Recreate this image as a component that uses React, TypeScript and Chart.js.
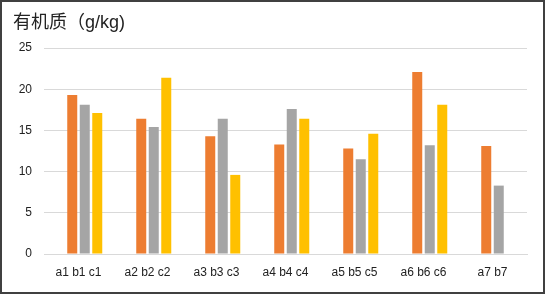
import React, { useEffect, useRef } from "react";
import { Chart, registerables } from "chart.js";

Chart.register(...registerables);

const categories = ["a1 b1 c1", "a2 b2 c2", "a3 b3 c3", "a4 b4 c4", "a5 b5 c5", "a6 b6 c6", "a7 b7"];
const emptySeries: (number | null)[] = [null, null, null, null, null, null, null];
const seriesA: (number | null)[] = [19.3, 16.4, 14.3, 13.3, 12.8, 22.1, 13.1];
const seriesB: (number | null)[] = [18.1, 15.4, 16.4, 17.6, 11.5, 13.2, 8.3];
const seriesC: (number | null)[] = [17.1, 21.4, 9.6, 16.4, 14.6, 18.1, null];
const yTicks = [0, 5, 10, 15, 20, 25];
const titleText = "有机质（g/kg)";

const FONT = "'Liberation Sans', 'Noto Sans CJK SC', Arial, sans-serif";
const TEXT = "#222222";

export default function App() {
  const ref = useRef<HTMLCanvasElement>(null);

  useEffect(() => {
    document.body.style.margin = "0";
    const canvas = ref.current;
    if (!canvas) return;
    const chart = new Chart(canvas, {
      type: "bar",
      data: {
        labels: categories,
        datasets: [
          { label: "", data: emptySeries, backgroundColor: "#4472C4" },
          { label: "a", data: seriesA, backgroundColor: "#ED7D31" },
          { label: "b", data: seriesB, backgroundColor: "#A5A5A5" },
          { label: "c", data: seriesC, backgroundColor: "#FFC000" },
        ],
      },
      options: {
        animation: false,
        responsive: false,
        maintainAspectRatio: false,
        layout: { padding: { left: 11, right: 16, top: 0, bottom: 0 } },
        datasets: { bar: { categoryPercentage: 0.725, barPercentage: 0.8 } },
        plugins: {
          legend: { display: false },
          tooltip: { enabled: false },
          title: {
            display: true,
            text: titleText,
            align: "start",
            color: TEXT,
            font: { family: FONT, size: 18, weight: "normal", lineHeight: 1.2 },
            padding: { top: 10, bottom: 14.4 },
          },
        },
        scales: {
          x: {
            grid: { display: false, drawTicks: false },
            border: { display: true, color: "#D9D9D9", width: 1 },
            ticks: {
              color: TEXT,
              font: { family: FONT, size: 12 },
              padding: 11,
              maxRotation: 0,
              autoSkip: false,
            },
            afterFit: (scale: any) => {
              scale.height = 38;
            },
          },
          y: {
            min: 0,
            max: 25,
            afterBuildTicks: (scale: any) => {
              scale.ticks = yTicks.map((v) => ({ value: v }));
            },
            grid: { color: "#D9D9D9", lineWidth: 1, drawTicks: false },
            border: { display: false },
            ticks: {
              color: TEXT,
              font: { family: FONT, size: 12 },
              padding: 12,
            },
            afterFit: (scale: any) => {
              scale.width = 31;
            },
          },
        },
      },
    });
    return () => chart.destroy();
  }, []);

  return (
    <div
      style={{
        width: 545,
        height: 294,
        boxSizing: "border-box",
        border: "2px solid #404040",
        background: "#fff",
        position: "relative",
      }}
    >
      <canvas ref={ref} width={541} height={290} style={{ display: "block", width: 541, height: 290 }} />
    </div>
  );
}
